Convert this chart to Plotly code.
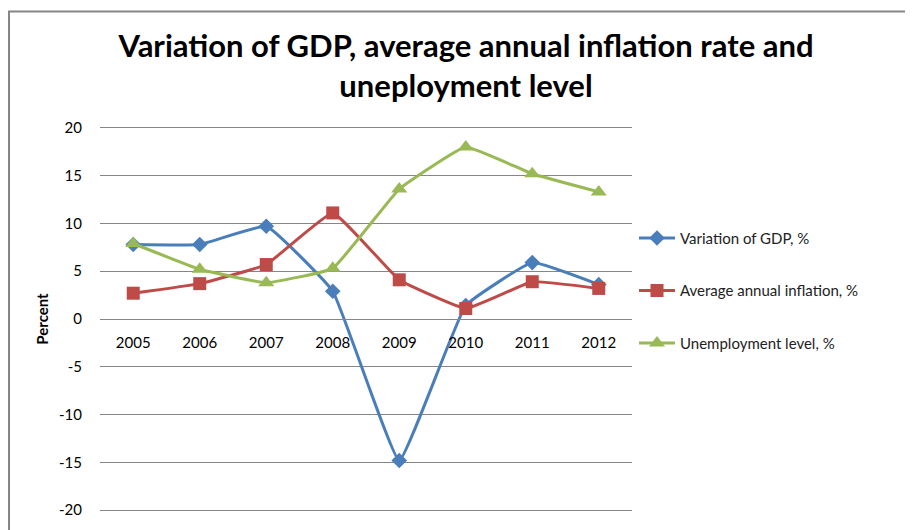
import plotly.graph_objects as go

years = ["2005", "2006", "2007", "2008", "2009", "2010", "2011", "2012"]
gdp = [7.8, 7.8, 9.7, 2.9, -14.8, 1.4, 5.9, 3.6]
inflation = [2.7, 3.7, 5.7, 11.1, 4.1, 1.1, 3.9, 3.2]
unemployment = [7.9, 5.2, 3.8, 5.3, 13.6, 18.0, 15.2, 13.3]
y_ticks = [20, 15, 10, 5, 0, -5, -10, -15, -20]
y_tick_labels = ["20", "15", "10", "5", "0", "-5", "-10", "-15", "-20"]

series = [
    ("Variation of GDP, %", gdp, "#4A7EBB", "diamond", 12),
    ("Average annual inflation, %", inflation, "#BE4B48", "square", 13),
    ("Unemployment level, %", unemployment, "#98B954", "triangle-up", 14),
]

fig = go.Figure()
for i, (name, vals, color, sym, size) in enumerate(series):
    fig.add_trace(go.Scatter(
        x=years, y=vals, name=name, mode="lines+markers",
        line=dict(color=color, width=3, shape="spline", smoothing=0.3),
        marker=dict(symbol=sym, size=size, color=color),
        legendgroup=str(i),
    ))

# page body adds an 8px offset, so the figure is drawn 8px smaller
W, H = 905, 522
L, R, T, B = 92, 281, 117, 12
pw, ph = W - L - R, H - T - B

fig.update_layout(
    width=W, height=H,
    margin=dict(l=L, r=R, t=T, b=B),
    paper_bgcolor="white", plot_bgcolor="white",
    font=dict(family="Lato, sans-serif", color="#000000", size=14),
    title=dict(
        text="<b>Variation of GDP, average annual inflation rate and<br>uneployment level</b>",
        x=458 / W, xanchor="center", y=1 - 49 / H, yanchor="top",
        font=dict(size=31, family="Lato, sans-serif", color="#000000"),
    ),
    showlegend=True,
    legend=dict(
        x=(626 - L) / pw, xanchor="left", y=(H - B - 215) / ph, yanchor="top",
        font=dict(size=15, color="#222222"),
        traceorder="grouped", tracegroupgap=30,
        bgcolor="rgba(0,0,0,0)", itemwidth=36,
    ),
    xaxis=dict(
        type="category", anchor="free", position=0.5,
        showgrid=False, showline=True, linecolor="#868686", linewidth=1,
        zeroline=False,
        ticks="", ticklabelstandoff=10,
        tickfont=dict(size=15, color="#000000"),
        range=[-0.5, 7.5],
    ),
    yaxis=dict(
        range=[-20.3, 20.3], tickvals=y_ticks, ticktext=y_tick_labels,
        showgrid=True, gridcolor="#868686", gridwidth=1,
        zeroline=True, zerolinecolor="#868686", zerolinewidth=1,
        showline=False, ticks="",
        ticklabelstandoff=17,
        tickfont=dict(size=15, color="#000000"),
        title=dict(text="<b>Percent</b>", font=dict(size=15), standoff=6),
    ),
)

fig.add_shape(
    type="rect", xref="paper", yref="paper",
    x0=(1 - L) / pw, x1=(920 - L) / pw,
    y0=(H - B - 560) / ph, y1=(H - B - 2) / ph,
    line=dict(color="#868686", width=2), fillcolor="rgba(0,0,0,0)",
    layer="above",
)

fig.write_html("out.html")
